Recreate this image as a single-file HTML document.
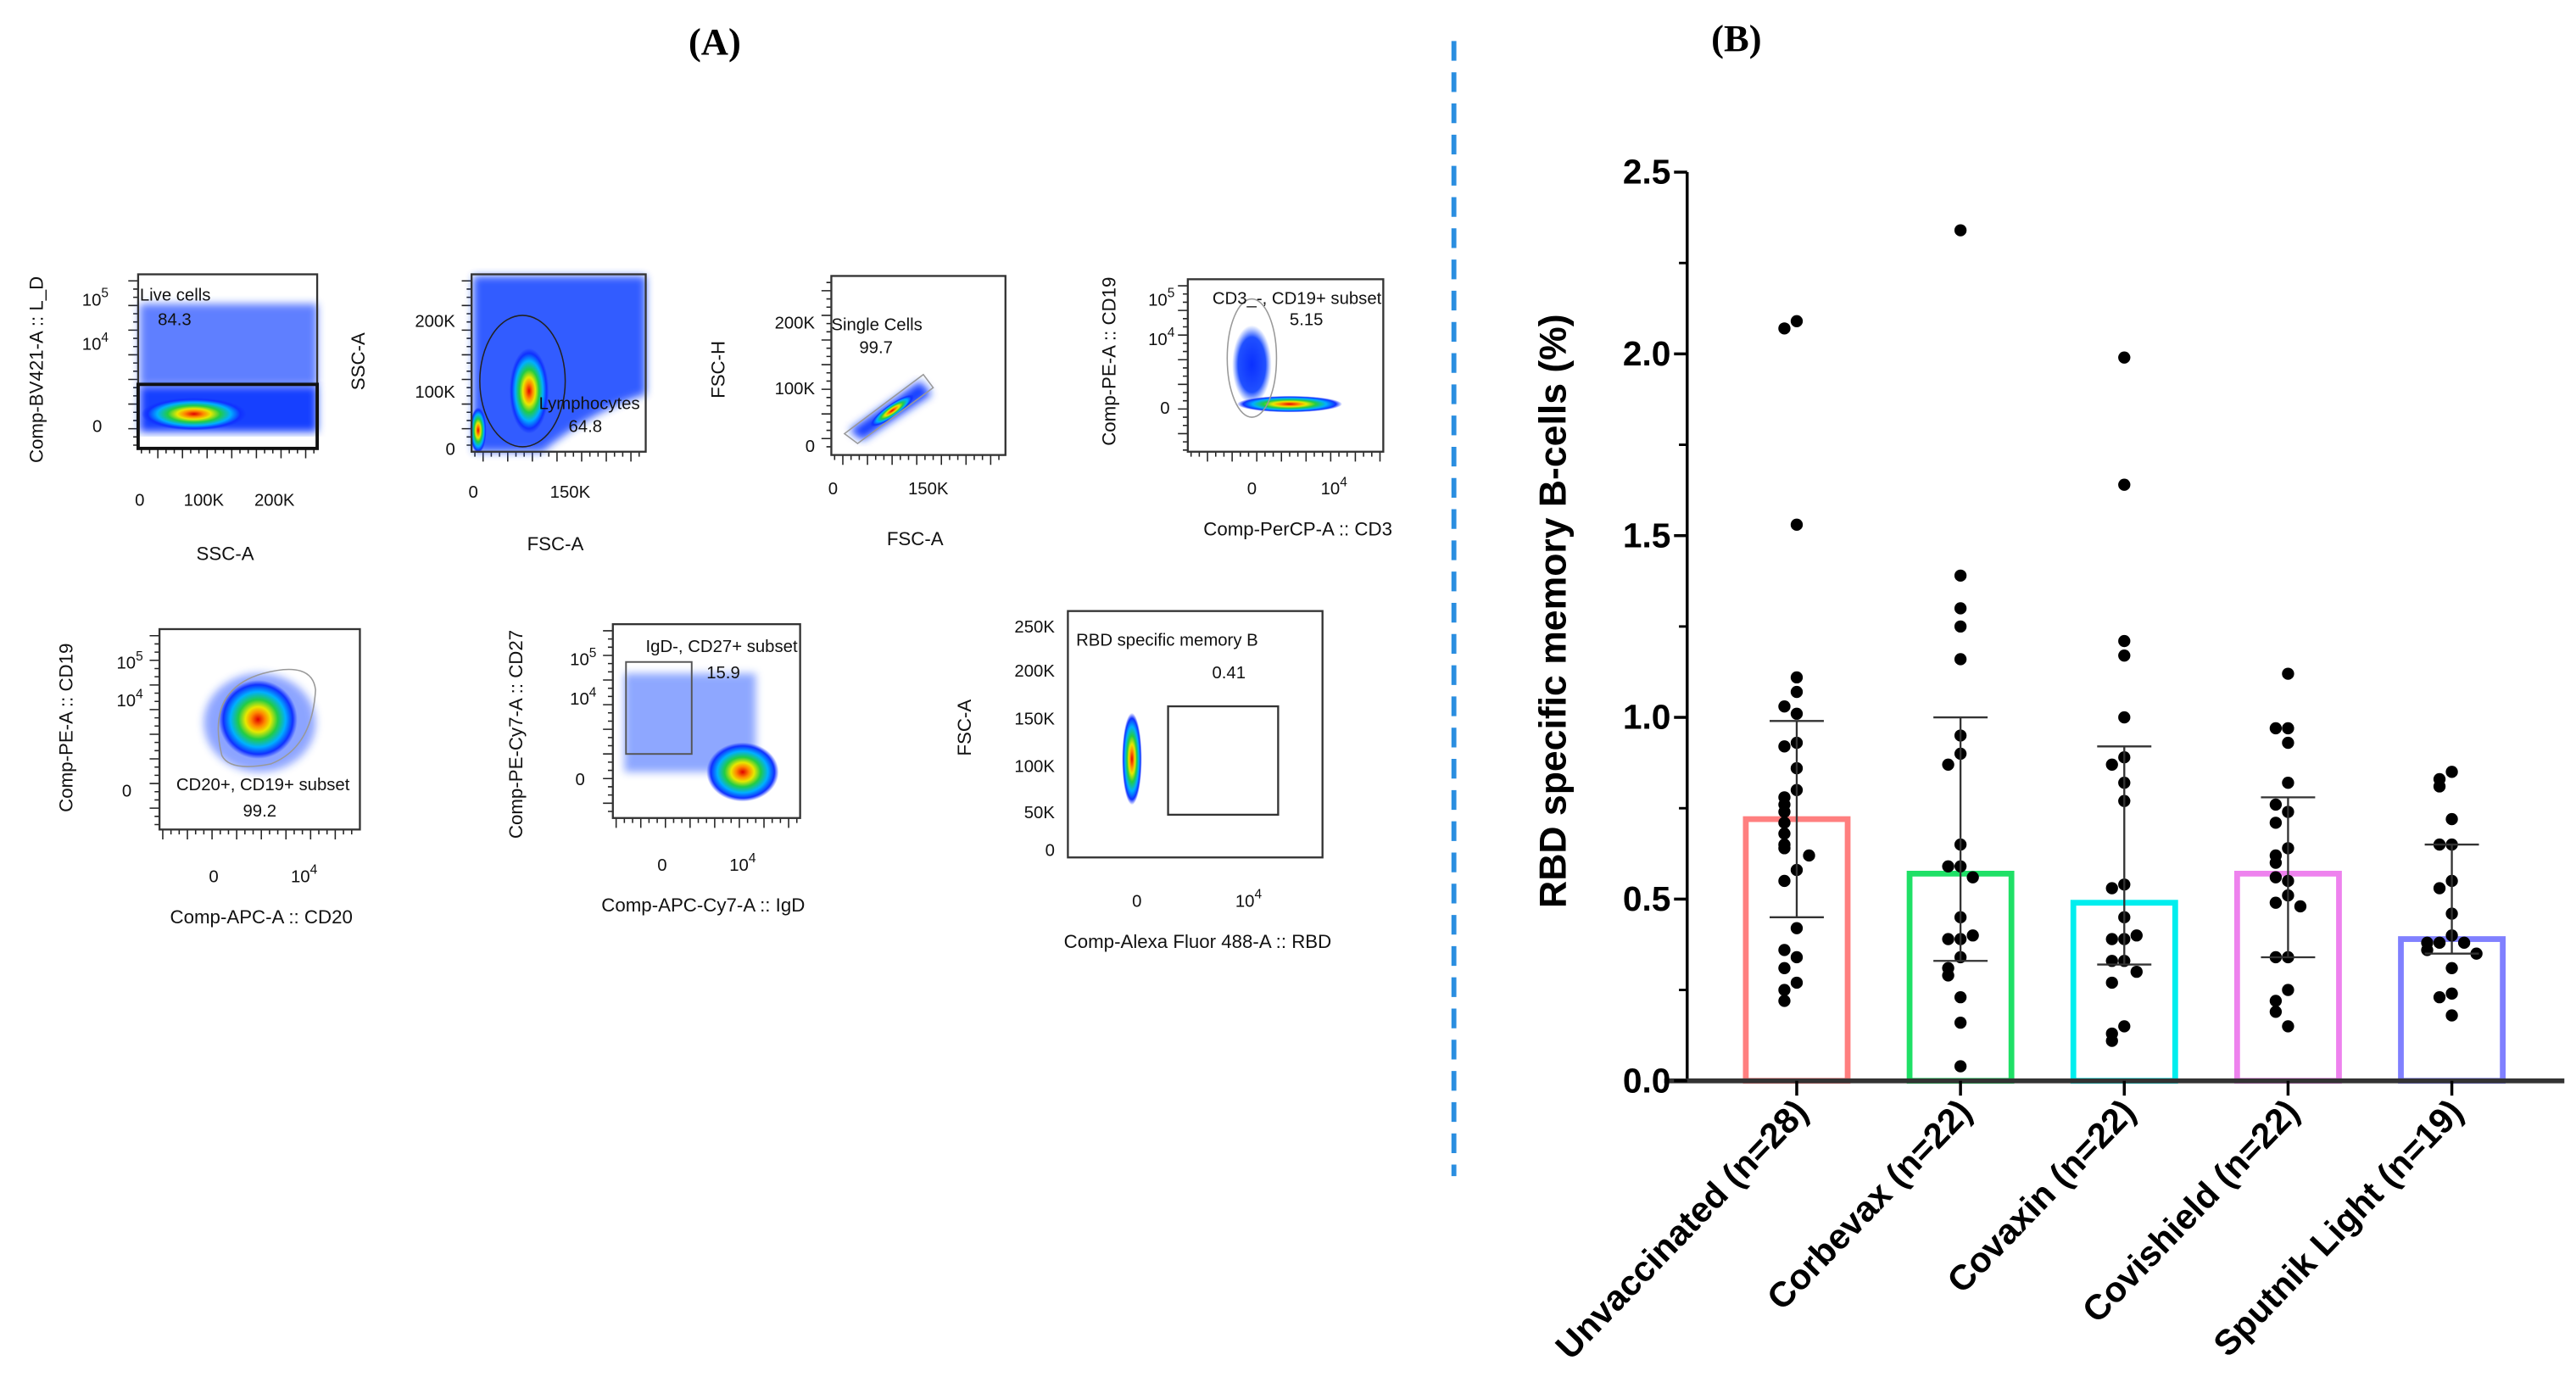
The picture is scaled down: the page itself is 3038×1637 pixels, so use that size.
<!DOCTYPE html>
<html><head><meta charset="utf-8"><style>
html,body{margin:0;padding:0;background:#fff;}
svg{display:block;font-family:"Liberation Sans",Arial,sans-serif;}
.sm{font-size:10.5px;fill:#111;}
.ax{font-size:11.5px;fill:#111;}
</style></head><body>
<svg id="fig" width="3038" height="1637" viewBox="0 0 1568 845" xmlns="http://www.w3.org/2000/svg">
<defs>
<radialGradient id="dens" cx="50%" cy="50%" r="50%">
<stop offset="0" stop-color="#e00000"/><stop offset="0.18" stop-color="#ff8800"/><stop offset="0.32" stop-color="#e8e800"/><stop offset="0.5" stop-color="#22cc44"/><stop offset="0.7" stop-color="#00b0ff"/><stop offset="0.88" stop-color="#1030ff"/><stop offset="1" stop-color="#1030ff" stop-opacity="0"/>
</radialGradient>
<radialGradient id="blue" cx="50%" cy="50%" r="50%">
<stop offset="0" stop-color="#0a30ff"/><stop offset="0.7" stop-color="#2050ff"/><stop offset="1" stop-color="#4070ff" stop-opacity="0"/>
</radialGradient>
<filter id="bl"><feGaussianBlur stdDeviation="2.5"/></filter>
</defs>

<text x="435" y="33" text-anchor="middle" font-family="Liberation Serif,serif" font-weight="bold" font-size="23">(A)</text>
<text x="1057" y="31" text-anchor="middle" font-family="Liberation Serif,serif" font-weight="bold" font-size="23">(B)</text>
<line x1="885" y1="25" x2="885" y2="716" stroke="#2a8ee0" stroke-width="3" stroke-dasharray="12,7"/>

<g id="flowticks" stroke="#222" stroke-width="0.8"></g>

<g>
<rect x="85" y="185" width="108" height="50" fill="#2a55ff" opacity="0.75" filter="url(#bl)"/>
<rect x="85" y="235" width="108" height="28" fill="#1540ff" filter="url(#bl)"/>
<ellipse cx="118" cy="252" rx="32" ry="10" fill="url(#dens)"/>
<rect x="84" y="167" width="109" height="106" fill="none" stroke="#333" stroke-width="1.2"/>
<rect x="84" y="234" width="109" height="39" fill="none" stroke="#111" stroke-width="2"/>
<text class="sm" x="85" y="183">Live cells</text><text class="sm" x="96" y="198">84.3</text>
<text class="sm" x="66" y="186" text-anchor="end">10<tspan dy="-5" font-size="8">5</tspan></text>
<text class="sm" x="66" y="213" text-anchor="end">10<tspan dy="-5" font-size="8">4</tspan></text>
<text class="sm" x="62" y="263" text-anchor="end">0</text>
<text class="sm" x="85" y="308" text-anchor="middle">0</text><text class="sm" x="124" y="308" text-anchor="middle">100K</text><text class="sm" x="167" y="308" text-anchor="middle">200K</text>
<text class="ax" x="137" y="341" text-anchor="middle">SSC-A</text>
<text class="ax" transform="translate(26,225) rotate(-90)" text-anchor="middle">Comp-BV421-A :: L_D</text>
</g>
<g>
<path d="M288,275 L288,168 L393,168 L393,240 Q360,250 330,275 Z" fill="#1f4cff" opacity="0.9" filter="url(#bl)"/>
<ellipse cx="322" cy="238" rx="12" ry="26" fill="url(#dens)"/>
<ellipse cx="291" cy="262" rx="5" ry="14" fill="url(#dens)"/>
<ellipse cx="318" cy="232" rx="26" ry="40" fill="none" stroke="#222" stroke-width="0.8"/>
<rect x="287" y="167" width="106" height="108" fill="none" stroke="#333" stroke-width="1.2"/>
<text class="sm" x="328" y="249">Lymphocytes</text><text class="sm" x="346" y="263">64.8</text>
<text class="sm" x="277" y="199" text-anchor="end">200K</text><text class="sm" x="277" y="242" text-anchor="end">100K</text><text class="sm" x="277" y="277" text-anchor="end">0</text>
<text class="sm" x="288" y="303" text-anchor="middle">0</text><text class="sm" x="347" y="303" text-anchor="middle">150K</text>
<text class="ax" x="338" y="335" text-anchor="middle">FSC-A</text>
<text class="ax" transform="translate(222,220) rotate(-90)" text-anchor="middle">SSC-A</text>
</g>
<g>
<path d="M517,262 L560,232 L567,240 L525,268 Z" fill="#1540ff" filter="url(#bl)"/>
<ellipse cx="543" cy="250" rx="16" ry="4" transform="rotate(-35 543 250)" fill="url(#dens)"/>
<path d="M514,264 L562,228 L568,236 L522,270 Z" fill="none" stroke="#999" stroke-width="0.8"/>
<rect x="506" y="168" width="106" height="109" fill="none" stroke="#333" stroke-width="1.2"/>
<text class="sm" x="506" y="201">Single Cells</text><text class="sm" x="523" y="215">99.7</text>
<text class="sm" x="496" y="200" text-anchor="end">200K</text><text class="sm" x="496" y="240" text-anchor="end">100K</text><text class="sm" x="496" y="275" text-anchor="end">0</text>
<text class="sm" x="507" y="301" text-anchor="middle">0</text><text class="sm" x="565" y="301" text-anchor="middle">150K</text>
<text class="ax" x="557" y="332" text-anchor="middle">FSC-A</text>
<text class="ax" transform="translate(441,225) rotate(-90)" text-anchor="middle">FSC-H</text>
</g>
<g>
<ellipse cx="762" cy="222" rx="12" ry="24" fill="url(#blue)"/>
<ellipse cx="785" cy="246" rx="32" ry="5" fill="url(#dens)"/>
<ellipse cx="762" cy="218" rx="15" ry="36" fill="none" stroke="#999" stroke-width="0.8"/>
<rect x="723" y="170" width="119" height="105" fill="none" stroke="#333" stroke-width="1.2"/>
<text class="sm" x="738" y="185" font-size="9.5">CD3_-, CD19+ subset</text><text class="sm" x="785" y="198">5.15</text>
<text class="sm" x="715" y="186" text-anchor="end">10<tspan dy="-5" font-size="8">5</tspan></text>
<text class="sm" x="715" y="210" text-anchor="end">10<tspan dy="-5" font-size="8">4</tspan></text>
<text class="sm" x="712" y="252" text-anchor="end">0</text>
<text class="sm" x="762" y="301" text-anchor="middle">0</text><text class="sm" x="812" y="301" text-anchor="middle">10<tspan dy="-5" font-size="8">4</tspan></text>
<text class="ax" x="790" y="326" text-anchor="middle">Comp-PerCP-A :: CD3</text>
<text class="ax" transform="translate(679,220) rotate(-90)" text-anchor="middle">Comp-PE-A :: CD19</text>
</g>
<g>
<ellipse cx="158" cy="440" rx="34" ry="30" fill="#1f4cff" opacity="0.5" filter="url(#bl)"/>
<ellipse cx="157" cy="438" rx="24" ry="24" fill="url(#dens)"/>
<path d="M135,460 Q125,420 160,410 Q190,402 192,420 Q190,455 165,465 Q140,470 135,460 Z" fill="none" stroke="#999" stroke-width="0.8"/>
<rect x="97" y="383" width="122" height="122" fill="none" stroke="#333" stroke-width="1.2"/>
<text class="sm" x="160" y="481" text-anchor="middle">CD20+, CD19+ subset</text><text class="sm" x="158" y="497" text-anchor="middle">99.2</text>
<text class="sm" x="87" y="407" text-anchor="end">10<tspan dy="-5" font-size="8">5</tspan></text>
<text class="sm" x="87" y="430" text-anchor="end">10<tspan dy="-5" font-size="8">4</tspan></text>
<text class="sm" x="80" y="485" text-anchor="end">0</text>
<text class="sm" x="130" y="537" text-anchor="middle">0</text><text class="sm" x="185" y="537" text-anchor="middle">10<tspan dy="-5" font-size="8">4</tspan></text>
<text class="ax" x="159" y="562" text-anchor="middle">Comp-APC-A :: CD20</text>
<text class="ax" transform="translate(44,443) rotate(-90)" text-anchor="middle">Comp-PE-A :: CD19</text>
</g>
<g>
<rect x="380" y="410" width="80" height="60" fill="#3060ff" opacity="0.55" filter="url(#bl)"/>
<ellipse cx="452" cy="470" rx="22" ry="18" fill="url(#dens)"/>
<rect x="381" y="403" width="40" height="56" fill="none" stroke="#555" stroke-width="1"/>
<rect x="373" y="380" width="114" height="118" fill="none" stroke="#333" stroke-width="1.2"/>
<text class="sm" x="393" y="397" font-size="9.5">IgD-, CD27+ subset</text><text class="sm" x="430" y="413">15.9</text>
<text class="sm" x="363" y="405" text-anchor="end">10<tspan dy="-5" font-size="8">5</tspan></text>
<text class="sm" x="363" y="429" text-anchor="end">10<tspan dy="-5" font-size="8">4</tspan></text>
<text class="sm" x="356" y="478" text-anchor="end">0</text>
<text class="sm" x="403" y="530" text-anchor="middle">0</text><text class="sm" x="452" y="530" text-anchor="middle">10<tspan dy="-5" font-size="8">4</tspan></text>
<text class="ax" x="428" y="555" text-anchor="middle">Comp-APC-Cy7-A :: IgD</text>
<text class="ax" transform="translate(318,447) rotate(-90)" text-anchor="middle">Comp-PE-Cy7-A :: CD27</text>
</g>
<g>
<ellipse cx="689" cy="462" rx="6" ry="28" fill="url(#dens)"/>
<rect x="711" y="430" width="67" height="66" fill="none" stroke="#333" stroke-width="1.2"/>
<rect x="650" y="372" width="155" height="150" fill="none" stroke="#333" stroke-width="1.2"/>
<text class="sm" x="655" y="393" font-size="13">RBD specific memory B</text><text class="sm" x="748" y="413" text-anchor="middle" font-size="13">0.41</text>
<text class="sm" x="642" y="385" text-anchor="end">250K</text><text class="sm" x="642" y="412" text-anchor="end">200K</text><text class="sm" x="642" y="441" text-anchor="end">150K</text><text class="sm" x="642" y="470" text-anchor="end">100K</text><text class="sm" x="642" y="498" text-anchor="end">50K</text><text class="sm" x="642" y="521" text-anchor="end">0</text>
<text class="sm" x="692" y="552" text-anchor="middle">0</text><text class="sm" x="760" y="552" text-anchor="middle">10<tspan dy="-5" font-size="8">4</tspan></text>
<text class="ax" x="729" y="577" text-anchor="middle">Comp-Alexa Fluor 488-A :: RBD</text>
<text class="ax" transform="translate(591,443) rotate(-90)" text-anchor="middle">FSC-A</text>
</g>

<g id="chart"></g>
</svg>
<script>
const categories = ["Unvaccinated (n=28)","Corbevax (n=22)","Covaxin (n=22)","Covishield (n=22)","Sputnik Light (n=19)"];
const means = [0.72,0.57,0.49,0.57,0.39];
const errLow = [0.45,0.33,0.32,0.34,0.35];
const errHigh = [0.99,1.00,0.92,0.78,0.65];
const ptsUnvaccinated = [2.09,2.07,1.53,1.11,1.07,1.01,1.03,0.93,0.92,0.86,0.80,0.78,0.76,0.74,0.71,0.68,0.65,0.64,0.62,0.58,0.55,0.42,0.34,0.36,0.31,0.27,0.25,0.22];
const ptsCorbevax = [2.34,1.39,1.30,1.25,1.16,0.95,0.90,0.87,0.65,0.59,0.59,0.56,0.45,0.39,0.39,0.40,0.34,0.31,0.29,0.23,0.16,0.04];
const ptsCovaxin = [1.99,1.64,1.21,1.17,1.00,0.89,0.87,0.82,0.77,0.54,0.53,0.45,0.39,0.39,0.40,0.33,0.33,0.30,0.27,0.15,0.13,0.11];
const ptsCovishield = [1.12,0.97,0.97,0.93,0.82,0.74,0.76,0.71,0.64,0.62,0.60,0.55,0.56,0.51,0.49,0.48,0.34,0.34,0.25,0.22,0.19,0.15];
const ptsSputnik = [0.85,0.83,0.81,0.72,0.65,0.65,0.55,0.53,0.46,0.40,0.38,0.38,0.38,0.36,0.35,0.31,0.24,0.23,0.18];
const yTicks = [0,0.5,1.0,1.5,2.0,2.5];
const yTickLabels = ["0.0","0.5","1.0","1.5","2.0","2.5"];
const colors = ["#ff7f7f","#1fe066","#00eeee","#ee82ee","#8080ff"];
const groups = [ptsUnvaccinated,ptsCorbevax,ptsCovaxin,ptsCovishield,ptsSputnik];

const NS="http://www.w3.org/2000/svg";
const ft=document.getElementById('flowticks');
[[84,167,193,273],[287,167,393,275],[506,168,612,277],[723,170,842,275],[97,383,219,505],[373,380,487,498]].forEach(b=>{
  let d='';
  for(let xx=b[0]+2;xx<b[2];xx+=5){d+=`M${xx},${b[3]}v${(xx%3===0)?6:3}`;}
  for(let yy=b[1]+4;yy<b[3];yy+=5){d+=`M${b[0]},${yy}h${(yy%3===0)?-6:-3}`;}
  const p=document.createElementNS(NS,'path');p.setAttribute('d',d);ft.appendChild(p);
});

const g=document.getElementById('chart');
const X0=1027,X1=1561,Y0=658,Ytop=104.8,YMAX=2.5;
const y=v=>Y0-(v/YMAX)*(Y0-Ytop);
const x=i=>1093.7+i*99.7;
function mk(t,a){const e=document.createElementNS(NS,t);for(const k in a)e.setAttribute(k,a[k]);g.appendChild(e);return e;}

categories.forEach((c,i)=>{
  const b=mk('rect',{x:x(i)-31,y:y(means[i]),width:62,height:Y0-y(means[i]),fill:'none',stroke:colors[i],'stroke-width':3.5});
  
  
});
groups.forEach((arr,i)=>{
  arr.forEach((v,j)=>{
    let k=0;for(let m=0;m<j;m++) if(Math.abs(arr[m]-v)<0.035) k++;
    const off=[0,-1,1,-2,2,-3,3][Math.min(k,6)]*7.5;
    const d=mk('circle',{cx:x(i)+off,cy:y(v),r:3.7,fill:'#000'});
    
    
  });
});
categories.forEach((c,i)=>{
  const e=mk('path',{d:`M${x(i)},${y(errLow[i])}V${y(errHigh[i])}M${x(i)-16.5},${y(errLow[i])}H${x(i)+16.5}M${x(i)-16.5},${y(errHigh[i])}H${x(i)+16.5}`,stroke:'#333','stroke-width':1.2,fill:'none'});
  
  
});
const ya=mk('line',{x1:X0,y1:Ytop,x2:X0,y2:Y0,stroke:'#000','stroke-width':1.8});


const xa=mk('line',{x1:X0-14,y1:Y0,x2:X1,y2:Y0,stroke:'#333','stroke-width':3});


yTicks.forEach((v,i)=>{
  mk('line',{x1:X0-8,y1:y(v),x2:X0,y2:y(v),stroke:'#000','stroke-width':1.8});
  if(i<yTicks.length-1) mk('line',{x1:X0-5,y1:y(v+0.25),x2:X0,y2:y(v+0.25),stroke:'#000','stroke-width':1.5});
  const t=mk('text',{x:X0-10,y:y(v)+7,'text-anchor':'end','font-size':21,'font-weight':'bold'});
  t.textContent=yTickLabels[i];
  
  
});
categories.forEach((c,i)=>{
  mk('line',{x1:x(i),y1:Y0,x2:x(i),y2:Y0+9,stroke:'#000','stroke-width':1.8});
  const t=mk('text',{'text-anchor':'end','font-size':21.5,'font-weight':'bold',transform:`translate(${x(i)+8},${Y0+20}) rotate(-46)`});
  t.textContent=c;
  
  
});
const yt=mk('text',{'text-anchor':'middle','font-size':23,'font-weight':'bold',transform:`translate(953,372) rotate(-90)`});
yt.textContent='RBD specific memory B-cells (%)';


</script>
</body></html>
